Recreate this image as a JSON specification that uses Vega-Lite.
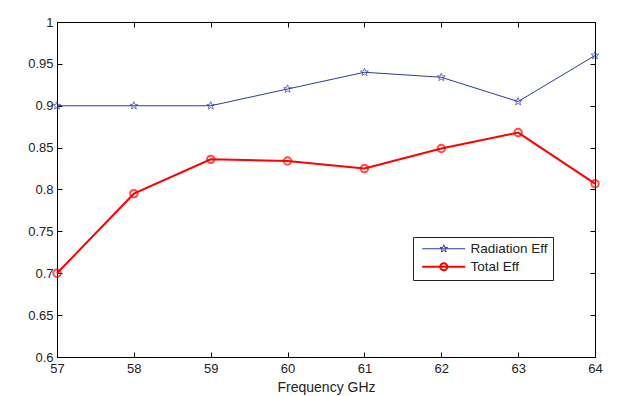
{
  "$schema": "https://vega.github.io/schema/vega-lite/v6.json",
  "width": 538,
  "height": 335,
  "autosize": {"type": "none"},
  "padding": {"left": 57, "top": 22, "right": 32, "bottom": 39},
  "background": "white",
  "config": {
    "view": {"stroke": "black", "strokeWidth": 1},
    "font": "Liberation Sans",
    "axis": {
      "grid": false,
      "domainColor": "black",
      "tickColor": "black",
      "tickSize": -5,
      "labelFlush": false,
      "labelOverlap": false,
      "labelFont": "Liberation Sans",
      "labelFontSize": 13,
      "labelColor": "#222",
      "titleFont": "Liberation Sans",
      "titleFontWeight": "normal",
      "titleColor": "#222"
    }
  },
  "data": {
    "values": [
      {"f": 57, "v": 0.900, "s": "Radiation Eff"},
      {"f": 58, "v": 0.900, "s": "Radiation Eff"},
      {"f": 59, "v": 0.900, "s": "Radiation Eff"},
      {"f": 60, "v": 0.920, "s": "Radiation Eff"},
      {"f": 61, "v": 0.940, "s": "Radiation Eff"},
      {"f": 62, "v": 0.934, "s": "Radiation Eff"},
      {"f": 63, "v": 0.905, "s": "Radiation Eff"},
      {"f": 64, "v": 0.960, "s": "Radiation Eff"},
      {"f": 57, "v": 0.700, "s": "Total Eff"},
      {"f": 58, "v": 0.795, "s": "Total Eff"},
      {"f": 59, "v": 0.836, "s": "Total Eff"},
      {"f": 60, "v": 0.834, "s": "Total Eff"},
      {"f": 61, "v": 0.825, "s": "Total Eff"},
      {"f": 62, "v": 0.849, "s": "Total Eff"},
      {"f": 63, "v": 0.868, "s": "Total Eff"},
      {"f": 64, "v": 0.807, "s": "Total Eff"}
    ]
  },
  "layer": [
    {
      "mark": {"type": "line"},
      "encoding": {
        "x": {"field": "f", "type": "quantitative", "scale": {"domain": [57, 64], "nice": false, "zero": false},
              "axis": {"values": [57,58,59,60,61,62,63,64], "title": "Frequency GHz", "titleFontSize": 14, "labelPadding": 10, "titlePadding": 5}},
        "y": {"field": "v", "type": "quantitative", "scale": {"domain": [0.6, 1], "nice": false, "zero": false},
              "axis": {"values": [0.6,0.65,0.7,0.75,0.8,0.85,0.9,0.95,1], "format": ".2~f", "title": null, "labelPadding": 9}},
        "color": {"field": "s", "type": "nominal",
                  "scale": {"domain": ["Radiation Eff", "Total Eff"], "range": ["#2B3A9E", "#FF0000"]},
                  "legend": {
                    "title": null,
                    "orient": "none",
                    "legendX": 356,
                    "legendY": 215,
                    "strokeColor": "#222",
                    "fillColor": "white",
                    "padding": 5,
                    "rowPadding": 3,
                    "symbolSize": 100,
                    "symbolOffset": 19,
                    "labelOffset": 20,
                    "labelFont": "Liberation Sans",
                    "labelFontSize": 13.5,
                    "labelColor": "#222",
                    "symbolFillColor": "transparent",
                    "encode": {
                      "symbols": {
                        "update": {
                          "shape": {"signal": "datum.label === 'Radiation Eff' ? 'M-4.3,0H4.3M0,-0.8L0.194,-0.267L0.761,-0.247L0.314,0.102L0.47,0.647L0,0.33L-0.47,0.647L-0.314,0.102L-0.761,-0.247L-0.194,-0.267Z' : 'M-4.3,0H4.3M0.7,0A0.7,0.7 0 1,1 -0.7,0A0.7,0.7 0 1,1 0.7,0Z'"},
                          "strokeWidth": {"signal": "datum.label === 'Radiation Eff' ? 1 : 2"},
                          "fill": {"value": "transparent"}
                        }
                      }
                    }
                  }},
        "strokeWidth": {"field": "s", "type": "nominal", "scale": {"domain": ["Radiation Eff", "Total Eff"], "range": [1, 2]}, "legend": null}
      }
    },
    {
      "mark": {"type": "point", "filled": false},
      "encoding": {
        "x": {"field": "f", "type": "quantitative", "scale": {"domain": [57, 64], "nice": false, "zero": false}, "axis": null},
        "y": {"field": "v", "type": "quantitative", "scale": {"domain": [0.6, 1], "nice": false, "zero": false}, "axis": null},
        "color": {"field": "s", "type": "nominal", "legend": null},
        "shape": {"field": "s", "type": "nominal", "scale": {"domain": ["Radiation Eff", "Total Eff"], "range": ["M0,-0.8L0.194,-0.267L0.761,-0.247L0.314,0.102L0.47,0.647L0,0.33L-0.47,0.647L-0.314,0.102L-0.761,-0.247L-0.194,-0.267Z", "circle"]}, "legend": null},
        "size": {"field": "s", "type": "nominal", "scale": {"domain": ["Radiation Eff", "Total Eff"], "range": [110, 55]}, "legend": null},
        "strokeWidth": {"field": "s", "type": "nominal", "scale": {"domain": ["Radiation Eff", "Total Eff"], "range": [1, 1.8]}, "legend": null}
      }
    },
    {
      "mark": {"type": "point", "opacity": 0},
      "encoding": {
        "x": {"field": "f", "type": "quantitative", "scale": {"domain": [57, 64], "nice": false, "zero": false},
              "axis": {"orient": "top", "values": [57,58,59,60,61,62,63,64], "labels": false, "title": null, "domain": false}},
        "y": {"field": "v", "type": "quantitative", "scale": {"domain": [0.6, 1], "nice": false, "zero": false},
              "axis": {"orient": "right", "values": [0.6,0.65,0.7,0.75,0.8,0.85,0.9,0.95,1], "labels": false, "title": null, "domain": false}}
      }
    }
  ],
  "resolve": {"axis": {"x": "independent", "y": "independent"}, "legend": {"color": "independent", "shape": "independent"}}
}
